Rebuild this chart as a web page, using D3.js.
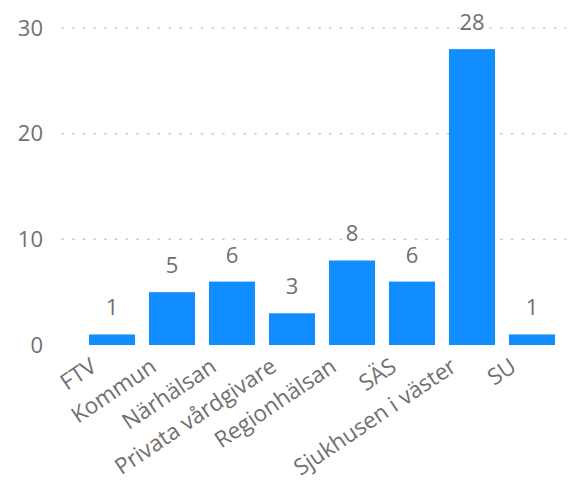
<!DOCTYPE html>
<html><head><meta charset="utf-8">
<script src="https://cdn.jsdelivr.net/npm/d3@7"></script>
<style>body{margin:0;background:#fff}svg{display:block}</style>
</head><body>
<svg id="c" width="572" height="488"></svg>
<script>
const categories = ["FTV","Kommun","Närhälsan","Privata vårdgivare","Regionhälsan","SÄS","Sjukhusen i väster","SU"];
const values = [1,5,6,3,8,6,28,1];
const yTicks = [0,10,20,30];

const svg = d3.select("#c");
const font = "'Open Sans', 'Noto Sans', sans-serif";
const x = d3.scaleBand().domain(categories).range([82,562]).paddingInner(0.233).paddingOuter(0.117);
const y = d3.scaleLinear().domain([0,30]).range([345,28]);

// gridlines
svg.append("g").selectAll("line").data(yTicks.filter(d=>d>0)).join("line")
  .attr("x1",62).attr("x2",566).attr("y1",d=>y(d)).attr("y2",d=>y(d))
  .attr("stroke","#cacaca").attr("stroke-width",1.5).attr("stroke-dasharray","1.5,9.2").attr("stroke-linecap","round");

// y axis
const ya = svg.append("g").attr("transform","translate(43,0)")
  .call(d3.axisLeft(y).tickValues(yTicks).tickSize(0).tickPadding(0));
ya.select(".domain").remove();
ya.selectAll("text").attr("font-family",font).attr("font-size",22).attr("fill","#707070");

// bars
svg.append("g").selectAll("rect").data(values).join("rect")
  .attr("x",(d,i)=>x(categories[i])).attr("width",x.bandwidth())
  .attr("y",d=>y(d)).attr("height",d=>y(0)-y(d)).attr("fill","#118DFF");

// value labels
svg.append("g").selectAll("text").data(values).join("text")
  .attr("x",(d,i)=>x(categories[i])+x.bandwidth()/2).attr("y",d=>y(d)-19)
  .attr("text-anchor","middle").attr("font-family",font).attr("font-size",22).attr("fill","#707070")
  .text(d=>d);

// x axis
const xa = svg.append("g").attr("transform","translate(0,345)")
  .call(d3.axisBottom(x).tickSize(0).tickPadding(0));
xa.select(".domain").remove();
xa.selectAll("text").attr("font-family",font).attr("font-size",22.5).attr("fill","#707070")
  .attr("text-anchor","end").attr("dy",0)
  .attr("transform","translate(-14,25) rotate(-34)");
</script>
</body></html>
